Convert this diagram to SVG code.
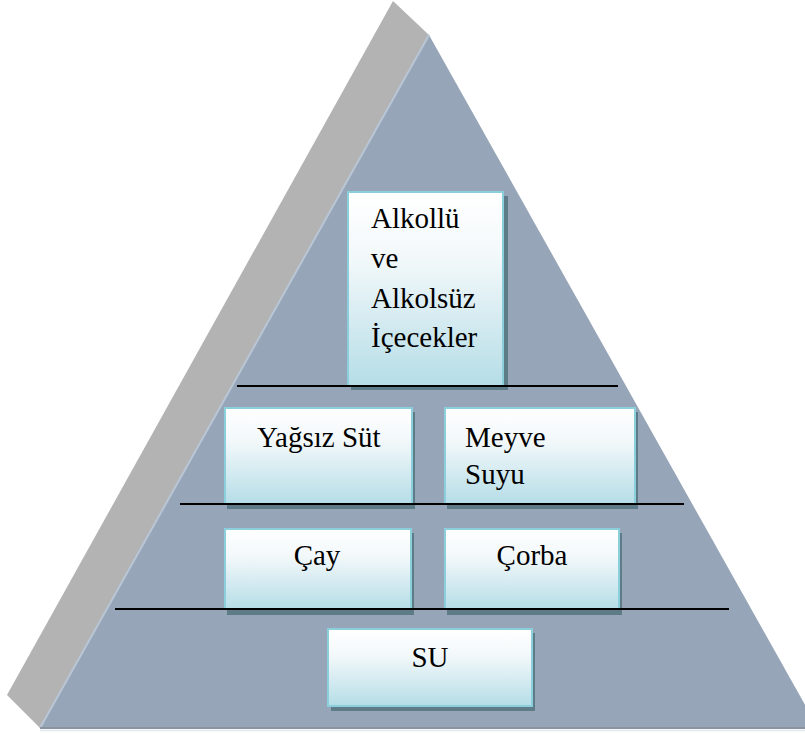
<svg xmlns="http://www.w3.org/2000/svg" width="805" height="734" viewBox="0 0 805 734">
<defs>
<linearGradient id="boxfill" x1="0" y1="0" x2="0" y2="1">
<stop offset="0" stop-color="#ffffff"/>
<stop offset="0.35" stop-color="#f2f8fa"/>
<stop offset="1" stop-color="#b5dde7"/>
</linearGradient>
</defs>
<style>
.box{fill:url(#boxfill);stroke:#8ccfdc;stroke-width:2}
.shadow{fill:#5e7c88}
.lbl{font-family:"Liberation Serif","Times New Roman",serif;font-size:29px;fill:#000}
.mid{text-anchor:middle}
.rule{stroke:#000;stroke-width:2}
</style>
<rect width="805" height="734" fill="#ffffff"/>
<g id="pyramid">
<polygon points="393,1 429,35 40,728 7,695" fill="#b3b3b3"/>
<polygon points="429,35 818,728 40,728" fill="#97a5b8"/>
<line x1="429" y1="35" x2="40" y2="728" stroke="#b9c6d6" stroke-width="2"/>
<line x1="40" y1="728" x2="805" y2="728" stroke="#8a939f" stroke-width="2"/>
<line x1="40" y1="730.5" x2="805" y2="730.5" stroke="#e3e8ee" stroke-width="1.5"/>
</g>
<g id="node-alkol">
<rect class="shadow" x="351" y="196" width="157" height="194"/>
<rect class="box" x="348" y="192" width="155" height="194"/>
<text class="lbl" x="371" y="228">Alkollü</text>
<text class="lbl" x="371" y="268">ve</text>
<text class="lbl" x="371" y="308">Alkolsüz</text>
<text class="lbl" x="371" y="347">İçecekler</text>
</g>
<g id="node-sut">
<rect class="shadow" x="227" y="412" width="188" height="97"/>
<rect class="box" x="225" y="408" width="187" height="96"/>
<text class="lbl" x="257" y="447">Yağsız Süt</text>
</g>
<g id="node-meyve">
<rect class="shadow" x="447" y="412" width="191" height="97"/>
<rect class="box" x="445" y="408" width="190" height="96"/>
<text class="lbl" x="465" y="447">Meyve</text>
<text class="lbl" x="465" y="484">Suyu</text>
</g>
<g id="node-cay">
<rect class="shadow" x="227" y="533" width="187" height="82"/>
<rect class="box" x="225" y="529" width="186" height="80"/>
<text class="lbl mid" x="317" y="565">Çay</text>
</g>
<g id="node-corba">
<rect class="shadow" x="447" y="533" width="175" height="82"/>
<rect class="box" x="445" y="529" width="174" height="80"/>
<text class="lbl mid" x="532" y="565">Çorba</text>
</g>
<g id="node-su">
<rect class="shadow" x="331" y="633" width="204" height="78"/>
<rect class="box" x="328" y="629" width="204" height="77"/>
<text class="lbl mid" x="430" y="667">SU</text>
</g>
<g id="connectors">
<line class="rule" x1="237" y1="386" x2="618" y2="386"/>
<line class="rule" x1="180" y1="504" x2="684" y2="504"/>
<line class="rule" x1="115" y1="609" x2="729" y2="609"/>
</g>
</svg>
